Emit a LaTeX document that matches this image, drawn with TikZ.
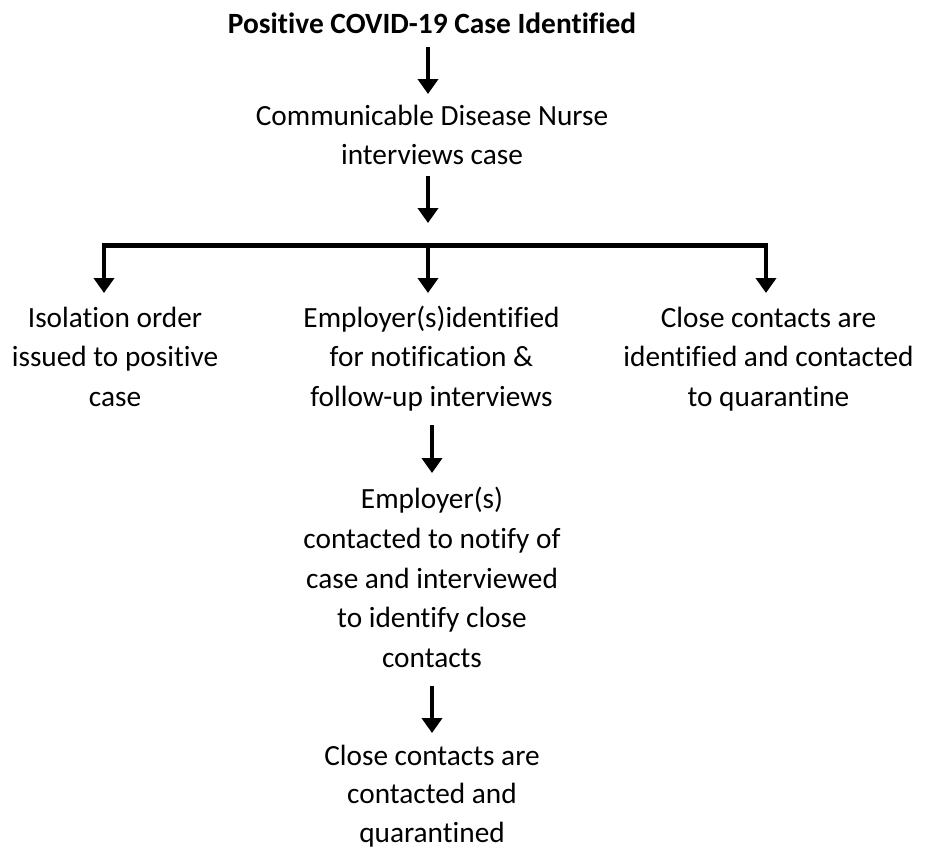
\documentclass[tikz,border=0pt]{standalone}
\usepackage{fontspec}
\setmainfont{Carlito}[Ligatures={NoCommon}]
\usetikzlibrary{arrows.meta}
\begin{document}
\begin{tikzpicture}[x=1pt,y=-1pt,
  txt/.style={align=center,inner sep=0pt,anchor=north,font=\fontsize{29.3}{39.7}\selectfont},
  arr/.style={line width=4pt,-{Triangle[width=20pt,length=15pt]}},
  bar/.style={line width=5pt}]
\useasboundingbox (0,0) rectangle (931,852);
% anchor north = first baseline - 0.7*39.7 (strut height)
\node[txt,font=\fontsize{29.4}{39.7}\selectfont\bfseries] (title) at (432,5.2) {\strut Positive COVID-19 Case Identified};
\node[txt] (nurse) at (432,97.2) {\strut Communicable Disease Nurse\\interviews case};
\node[txt] (iso) at (115,299.2) {\strut Isolation order\\issued to positive\\case};
\node[txt] (emp) at (431.5,299.2) {\strut Employer(s)identified\\for notification \&\\follow-up interviews};
\node[txt] (close) at (768.5,299.2) {\strut Close contacts are\\identified and contacted\\to quarantine};
\node[txt] (empc) at (432,480.7) {\strut Employer(s)\\contacted to notify of\\case and interviewed\\to identify close\\contacts};
\node[txt,font=\fontsize{29.3}{38.5}\selectfont] (quar) at (432,738) {\strut Close contacts are\\contacted and\\quarantined};
\coordinate (barL) at (104,245);
\coordinate (barM) at (428,245);
\coordinate (barR) at (766,245);
\coordinate (a1s) at (428,47);
\coordinate (a1e) at (428,94);
\coordinate (a2s) at (428,176);
\coordinate (a2e) at (428,223);
\coordinate (a4s) at (432,425);
\coordinate (a4e) at (432,473);
\coordinate (a5s) at (432,686);
\coordinate (a5e) at (432,733);
\draw[arr] (a1s) -- (a1e);
\draw[arr] (a2s) -- (a2e);
\draw[bar] ([xshift=-2pt]barL) -- ([xshift=2pt]barR);
\draw[arr] (barL) -- (barL |- 0,293);
\draw[arr] (barM) -- (barM |- 0,293);
\draw[arr] (barR) -- (barR |- 0,293);
\draw[arr] (a4s) -- (a4e);
\draw[arr] (a5s) -- (a5e);
\end{tikzpicture}
\end{document}
